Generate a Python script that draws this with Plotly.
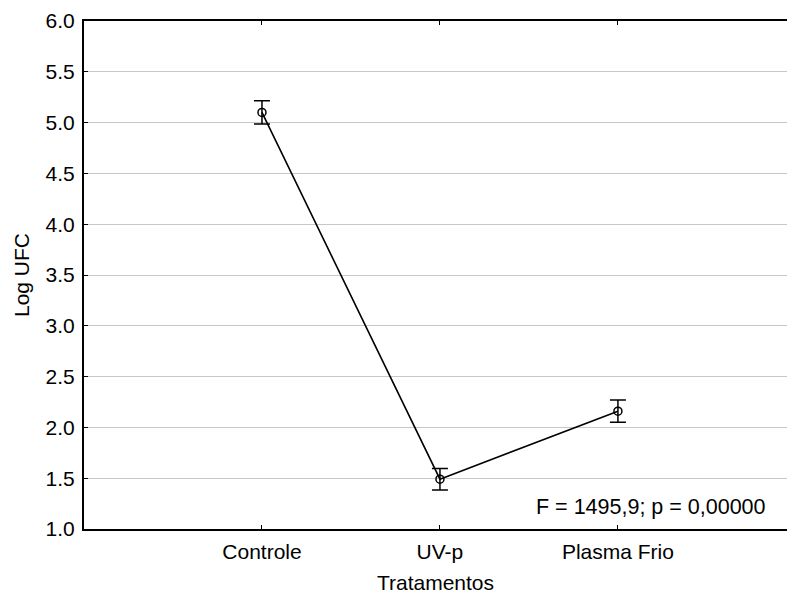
import plotly.graph_objects as go

categories = ["Controle", "UV-p", "Plasma Frio"]
means = [5.10, 1.49, 2.16]
errors = [0.115, 0.105, 0.11]
y_ticks = [1.0, 1.5, 2.0, 2.5, 3.0, 3.5, 4.0, 4.5, 5.0, 5.5, 6.0]
stat_text = "F = 1495,9; p = 0,00000"

FONT = "Liberation Sans, Arial, sans-serif"

fig = go.Figure()
fig.add_trace(go.Scatter(
    x=categories, y=means,
    mode="lines+markers",
    line=dict(color="black", width=1.6),
    marker=dict(symbol="circle-open", size=8, color="black", line=dict(width=1.5)),
    error_y=dict(type="data", array=errors, visible=True, color="black", thickness=1.5, width=8),
    showlegend=False,
))

fig.update_layout(
    width=787, height=597,
    margin=dict(l=84, r=0, t=21, b=68),
    paper_bgcolor="white", plot_bgcolor="white",
    font=dict(family=FONT, size=21, color="black"),
    xaxis=dict(
        type="category", range=[-1, 2.95],
        showline=True, linecolor="black", linewidth=2, mirror="ticks",
        ticks="inside", ticklen=4, tickcolor="black", tickwidth=1,
        showgrid=False,
        ticklabelstandoff=3,
        title=dict(text="Tratamentos", standoff=13, font=dict(size=21)),
        tickfont=dict(size=21),
    ),
    yaxis=dict(
        range=[1.0, 6.0], tickvals=y_ticks, ticktext=[f"{v:.1f}" for v in y_ticks],
        showline=True, linecolor="black", linewidth=2,
        ticks="inside", ticklen=4, tickcolor="black", tickwidth=1,
        showgrid=True, gridcolor="#c8c8c8", gridwidth=1,
        zeroline=False,
        ticklabelstandoff=3,
        title=dict(text="Log UFC", standoff=10, font=dict(size=21)),
        tickfont=dict(size=21),
    ),
    annotations=[dict(
        text=stat_text, xref="paper", yref="paper", x=0.973, y=0.043,
        xanchor="right", yanchor="middle", showarrow=False,
        font=dict(size=21.5, family=FONT),
    )],
)

fig.write_html("out.html")
